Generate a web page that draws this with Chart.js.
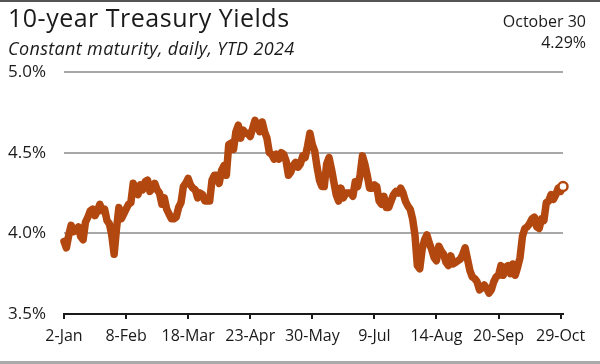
<!DOCTYPE html>
<html><head><meta charset="utf-8">
<script src="https://cdn.jsdelivr.net/npm/chart.js@4"></script>
<style>
html,body{margin:0;padding:0;background:#fff;}
#wrap{position:relative;width:600px;height:364px;overflow:hidden;font-family:"Open Sans",sans-serif;color:#1a1a1a;font-weight:500;}
#c{position:absolute;left:0;top:0;}
.t{position:absolute;white-space:nowrap;}
#title{left:8px;top:5px;font-size:25px;line-height:25px;letter-spacing:0.5px;}
#sub{left:8px;top:39px;font-size:18px;line-height:18px;font-style:italic;letter-spacing:0.35px;}
#date{right:14px;top:13px;font-size:16px;line-height:16px;}
#last{right:14px;top:34px;font-size:16px;line-height:16px;}
#topb{position:absolute;left:0;top:0;width:600px;height:2px;background:#555;}
#botb{position:absolute;left:0;top:361px;width:600px;height:3px;background:#aaa;}
</style></head>
<body>
<div id="wrap">
<canvas id="c" width="600" height="364"></canvas>
<div id="topb"></div><div id="botb"></div>
<div class="t" id="title">10-year Treasury Yields</div>
<div class="t" id="sub">Constant maturity, daily, YTD 2024</div>
<div class="t" id="date">October 30</div>
<div class="t" id="last">4.29%</div>
</div>
<script>
const dates = [
'2-Jan','3-Jan','4-Jan','5-Jan','8-Jan','9-Jan','10-Jan','11-Jan','12-Jan','16-Jan','17-Jan','18-Jan','19-Jan','22-Jan','23-Jan','24-Jan','25-Jan','26-Jan','29-Jan','30-Jan','31-Jan',
'1-Feb','2-Feb','5-Feb','6-Feb','7-Feb','8-Feb','9-Feb','12-Feb','13-Feb','14-Feb','15-Feb','16-Feb','20-Feb','21-Feb','22-Feb','23-Feb','26-Feb','27-Feb','28-Feb','29-Feb',
'1-Mar','4-Mar','5-Mar','6-Mar','7-Mar','8-Mar','11-Mar','12-Mar','13-Mar','14-Mar','15-Mar','18-Mar','19-Mar','20-Mar','21-Mar','22-Mar','25-Mar','26-Mar','27-Mar','28-Mar','29-Mar',
'1-Apr','2-Apr','3-Apr','4-Apr','5-Apr','8-Apr','9-Apr','10-Apr','11-Apr','12-Apr','15-Apr','16-Apr','17-Apr','18-Apr','19-Apr','22-Apr','23-Apr','24-Apr','25-Apr','26-Apr','29-Apr','30-Apr',
'1-May','2-May','3-May','6-May','7-May','8-May','9-May','10-May','13-May','14-May','15-May','16-May','17-May','20-May','21-May','22-May','23-May','24-May','28-May','29-May','30-May','31-May',
'3-Jun','4-Jun','5-Jun','6-Jun','7-Jun','10-Jun','11-Jun','12-Jun','13-Jun','14-Jun','17-Jun','18-Jun','20-Jun','21-Jun','24-Jun','25-Jun','26-Jun','27-Jun','28-Jun',
'1-Jul','2-Jul','3-Jul','5-Jul','8-Jul','9-Jul','10-Jul','11-Jul','12-Jul','15-Jul','16-Jul','17-Jul','18-Jul','19-Jul','22-Jul','23-Jul','24-Jul','25-Jul','26-Jul','29-Jul','30-Jul','31-Jul',
'1-Aug','2-Aug','5-Aug','6-Aug','7-Aug','8-Aug','9-Aug','12-Aug','13-Aug','14-Aug','15-Aug','16-Aug','19-Aug','20-Aug','21-Aug','22-Aug','23-Aug','26-Aug','27-Aug','28-Aug','29-Aug','30-Aug',
'3-Sep','4-Sep','5-Sep','6-Sep','9-Sep','10-Sep','11-Sep','12-Sep','13-Sep','16-Sep','17-Sep','18-Sep','19-Sep','20-Sep','23-Sep','24-Sep','25-Sep','26-Sep','27-Sep','30-Sep',
'1-Oct','2-Oct','3-Oct','4-Oct','7-Oct','8-Oct','9-Oct','10-Oct','11-Oct','15-Oct','16-Oct','17-Oct','18-Oct','21-Oct','22-Oct','23-Oct','24-Oct','25-Oct','28-Oct','29-Oct','30-Oct'
];
const yields = [
3.95,3.91,3.99,4.05,4.01,4.02,4.04,3.98,3.96,4.07,4.10,4.14,4.15,4.11,4.14,4.18,4.14,4.15,4.08,4.06,3.99,
3.87,4.03,4.16,4.09,4.12,4.15,4.18,4.19,4.31,4.27,4.24,4.30,4.27,4.32,4.33,4.26,4.28,4.31,4.27,4.25,
4.18,4.22,4.15,4.12,4.09,4.09,4.10,4.16,4.19,4.29,4.31,4.34,4.30,4.28,4.27,4.22,4.25,4.24,4.20,4.20,4.20,
4.33,4.36,4.36,4.31,4.39,4.42,4.36,4.55,4.56,4.52,4.63,4.67,4.59,4.64,4.62,4.62,4.60,4.65,4.70,4.67,4.63,4.69,
4.63,4.59,4.50,4.49,4.46,4.49,4.46,4.50,4.49,4.45,4.36,4.38,4.42,4.44,4.41,4.43,4.48,4.47,4.54,4.62,4.55,4.51,
4.41,4.33,4.29,4.29,4.43,4.47,4.40,4.32,4.24,4.20,4.28,4.22,4.25,4.25,4.25,4.23,4.32,4.29,4.36,
4.48,4.43,4.36,4.28,4.28,4.30,4.29,4.20,4.18,4.23,4.16,4.16,4.20,4.24,4.26,4.25,4.28,4.25,4.20,4.17,4.15,4.09,
3.99,3.80,3.78,3.90,3.96,3.99,3.94,3.90,3.85,3.83,3.92,3.89,3.87,3.82,3.80,3.86,3.81,3.82,3.83,3.84,3.87,3.91,
3.84,3.77,3.73,3.72,3.70,3.65,3.66,3.68,3.66,3.63,3.65,3.70,3.73,3.74,3.80,3.74,3.79,3.80,3.75,3.81,
3.74,3.79,3.85,3.98,4.03,4.04,4.06,4.09,4.10,4.04,4.03,4.09,4.08,4.19,4.20,4.24,4.21,4.24,4.28,4.26,4.29
];
const xTickLabels = ['2-Jan','8-Feb','18-Mar','23-Apr','30-May','9-Jul','14-Aug','20-Sep','29-Oct'];
const yTicks = [3.5, 4.0, 4.5, 5.0];

const lineColor = '#b2470f';
const txt = '#1a1a1a';
const last = yields.length - 1;
const xTickIdx = xTickLabels.map(l => dates.indexOf(l));

new Chart(document.getElementById('c'), {
  type: 'line',
  data: {
    datasets: [{
      data: yields.map((v, i) => ({x: i, y: v})),
      borderColor: lineColor,
      borderWidth: 7.5,
      borderJoinStyle: 'round',
      borderCapStyle: 'round',
      tension: 0,
      clip: false,
      pointRadius: c => c.dataIndex === last ? 4.5 : 0,
      pointHoverRadius: 0,
      pointBackgroundColor: '#fff',
      pointBorderColor: lineColor,
      pointBorderWidth: 2.5
    }]
  },
  options: {
    responsive: false,
    devicePixelRatio: 1,
    animation: false,
    events: [],
    layout: {padding: {left: 8, right: 37, top: 72, bottom: 8}},
    plugins: {legend: {display: false}, tooltip: {enabled: false}},
    scales: {
      x: {
        type: 'linear',
        min: 0,
        max: last,
        afterBuildTicks: s => { s.ticks = xTickIdx.map(v => ({value: v})); },
        afterFit: s => { s.height = 42; },
        grid: {display: true, drawOnChartArea: false, drawTicks: true, tickLength: 5, color: txt, lineWidth: 2},
        border: {display: true, color: txt, width: 2},
        ticks: {
          autoSkip: false, maxRotation: 0, padding: 8,
          color: txt, font: {family: '"Open Sans", sans-serif', size: 16, weight: 500},
          callback: v => dates[v]
        }
      },
      y: {
        min: 3.5, max: 5.0,
        afterBuildTicks: s => { s.ticks = yTicks.map(v => ({value: v})); },
        afterFit: s => { s.width = 56; },
        grid: {drawTicks: false, lineWidth: 2, color: c => (c.tick && c.tick.value === 3.5) ? 'rgba(0,0,0,0)' : '#a8a8a8'},
        border: {display: false},
        ticks: {
          crossAlign: 'far', padding: 0,
          color: txt, font: {family: '"Open Sans", sans-serif', size: 17, weight: 500},
          callback: v => v.toFixed(1) + '%'
        }
      }
    }
  }
});
</script>
</body></html>
